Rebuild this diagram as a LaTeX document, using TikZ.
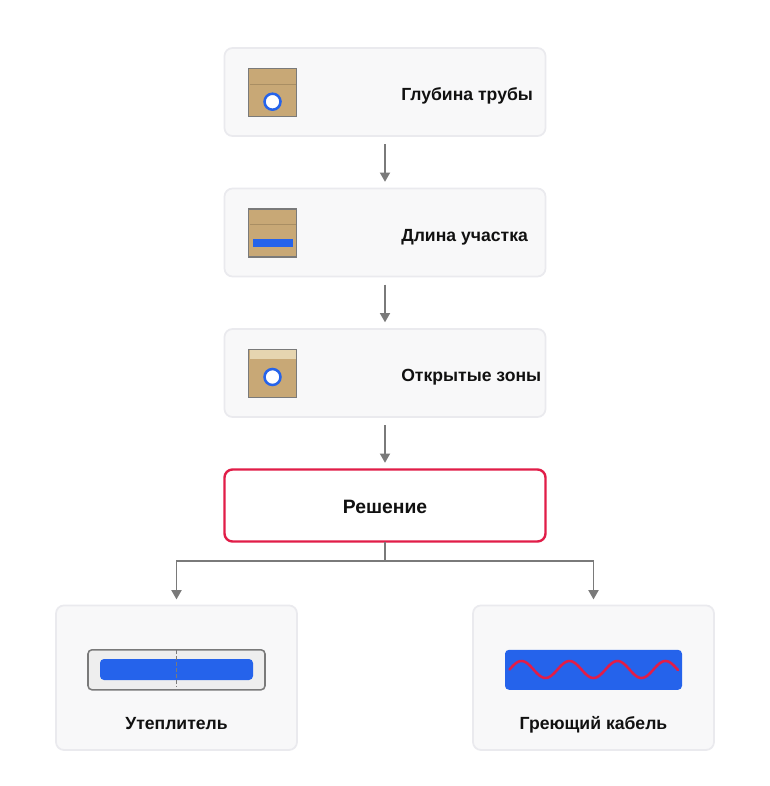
\documentclass[tikz,border=0pt]{standalone}
\usepackage{fontspec}
\setmainfont{Liberation Sans}
\usetikzlibrary{arrows.meta}
\definecolor{cardfill}{HTML}{F8F8F9}
\definecolor{cardline}{HTML}{EAEAEE}
\definecolor{conn}{HTML}{7A7A7A}
\definecolor{redc}{HTML}{E11D48}
\definecolor{bluec}{HTML}{2563EB}
\definecolor{tan}{HTML}{C8A876}
\definecolor{tanline}{HTML}{A98E63}
\definecolor{sand}{HTML}{E6D5B0}
\definecolor{ink}{HTML}{111111}
\definecolor{insfill}{HTML}{EEEEEE}
\tikzset{
  x=0.75pt,y=-0.75pt,
  card/.style={draw=cardline,fill=cardfill,line width=1.3pt,rounded corners=6pt,inner sep=0pt,outer sep=0pt,minimum width=#1*0.75pt},
  card/.default=321,
  label/.style={text=ink,inner sep=0pt,font=\bfseries\fontsize{13.2pt}{16pt}\selectfont},
  biglabel/.style={label,font=\bfseries\fontsize{14.5pt}{17pt}\selectfont},
  arr/.style={draw=conn,line width=1.4pt,-{Triangle[length=7pt,width=7.5pt]}},
  icon/.style={draw=conn,fill=tan,line width=1.15pt},
  seam/.style={draw=tanline,line width=0.75pt},
  pipe/.style={draw=bluec,fill=white,line width=1.9pt,circle,inner sep=0pt,minimum size=12pt},
}
\begin{document}
\begin{tikzpicture}
\useasboundingbox (0,0) rectangle (770,786);
\fill[white] (0,0) rectangle (770,786);
% cards
\node[card,minimum height=66pt] (b1) at (385,92) {};
\node[card,minimum height=66pt] (b2) at (385,232.5) {};
\node[card,minimum height=66pt] (b3) at (385,373) {};
\node[draw=redc,fill=white,line width=1.8pt,rounded corners=6pt,inner sep=0pt,outer sep=0pt,minimum width=240.75pt,minimum height=54pt] (dec) at (385,505.5) {};
\node[card=241,minimum height=108.4pt] (ins) at (176.5,677.7) {};
\node[card=241,minimum height=108.4pt] (heat) at (593.5,677.7) {};
% labels
\node[label,anchor=base west] (t1) at (401,100.5) {Глубина трубы};
\node[label,anchor=base west] (t2) at (401,241) {Длина участка};
\node[label,anchor=base west] (t3) at (401,381.5) {Открытые зоны};
\node[biglabel,anchor=base] (t4) at (385,513) {Решение};
\node[label,anchor=base] (t5) at (176.5,729.5) {Утеплитель};
\node[label,anchor=base] (t6) at (593.5,729.5) {Греющий кабель};
% icon 1
\draw[icon] (248.7,68.3) rectangle (296.7,116.3);
\draw[seam] (249.5,84) -- (296,84);
\node[pipe] (p1) at (272.5,101.7) {};
% icon 2
\draw[icon] (248.7,208.8) rectangle (296.7,256.8);
\draw[seam] (249.5,224.5) -- (296,224.5);
\fill[bluec] (252.5,239) rectangle (293,247);
% icon 3
\draw[icon] (248.7,349.3) rectangle (296.7,397.3);
\fill[sand] (249.5,350.1) rectangle (295.9,359);
\node[pipe] (p3) at (272.5,377) {};
% insulation
\draw[draw=conn,fill=insfill,line width=1.15pt,rounded corners=3pt] (88,649.8) rectangle (265,689.8);
\fill[bluec,rounded corners=3pt] (100,659) rectangle (253,680);
\draw[conn,line width=0.75pt,dash pattern=on 3pt off 1.5pt] (176.5,650) -- (176.5,687);
% heating cable
\fill[bluec,rounded corners=3pt] (505,649.8) rectangle (682,689.8);
\draw[redc,line width=1.9pt,line cap=round,smooth] plot[domain=509.5:678,samples=120] (\x,{669.5-8.5*sin((\x-509.5)*7.5)});
% connectors
\draw[arr,shorten <=6pt,shorten >=5pt] (b1.south) -- (b2.north);
\draw[arr,shorten <=6pt,shorten >=5pt] (b2.south) -- (b3.north);
\draw[arr,shorten <=6pt,shorten >=5pt] (b3.south) -- (dec.north);
\coordinate (j) at (385,561);
\draw[arr,shorten >=4.5pt] (dec.south) -- (j) -| (ins.north);
\draw[arr,shorten >=4.5pt] (dec.south) -- (j) -| (heat.north);
\end{tikzpicture}
\end{document}
